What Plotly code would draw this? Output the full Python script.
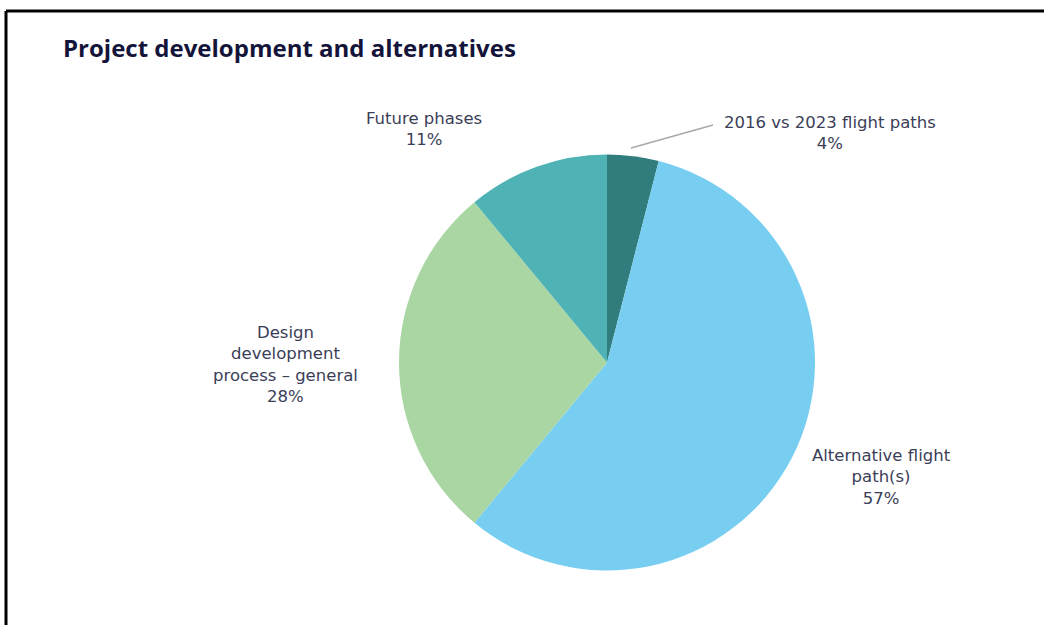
import plotly.graph_objects as go

# Share of comments by topic
categories = ["2016 vs 2023 flight paths", "Alternative flight path(s)",
              "Design development process – general", "Future phases"]
label_lines = ["2016 vs 2023 flight paths", "Alternative flight<br>path(s)",
               "Design<br>development<br>process – general", "Future phases"]
values = [4, 57, 28, 11]
colors = ["#317d7e", "#78cef1", "#a9d6a3", "#4fb2b5"]

W, H = 1044, 625


def px(x):
    return x / W


def py(y):
    return 1 - y / H


fig = go.Figure()
fig.add_trace(go.Pie(
    labels=categories,
    values=values,
    sort=False,
    direction="clockwise",
    rotation=0,
    marker=dict(colors=colors, line=dict(width=0)),
    textinfo="none",
    hoverinfo="label+percent",
    showlegend=False,
    domain=dict(x=[px(399), px(815)], y=[py(571), py(154)]),
))

total = sum(values)
pcts = [f"{round(v / total * 100)}%" for v in values]

# label anchor positions (pixels) for each slice
label_pos = [(830, 133), (881, 477), (285, 364), (424, 129)]
label_color = "#3b3e57"
for name, pct, (x, y) in zip(label_lines, pcts, label_pos):
    fig.add_annotation(
        x=px(x), y=py(y), xref="paper", yref="paper",
        text=f"{name}<br>{pct}", showarrow=False,
        align="center", xanchor="center", yanchor="middle",
        font=dict(family="DejaVu Sans", size=16.5, color=label_color),
    )

# leader line for the small slice
fig.add_shape(type="line", xref="paper", yref="paper",
              x0=px(631), y0=py(148), x1=px(713), y1=py(125),
              line=dict(color="#a8a8a8", width=1.5))

# outer frame
fig.add_shape(type="line", xref="paper", yref="paper",
              x0=px(6), y0=py(11), x1=1, y1=py(11),
              line=dict(color="#000000", width=3))
fig.add_shape(type="line", xref="paper", yref="paper",
              x0=px(6), y0=py(11), x1=px(6), y1=0,
              line=dict(color="#000000", width=3))

fig.add_annotation(
    x=px(61), y=py(48), xref="paper", yref="paper",
    text="<b>Project development and alternatives</b>", showarrow=False,
    xanchor="left", yanchor="middle",
    font=dict(family="Open Sans", size=24, color="#14143a"),
)

fig.update_layout(
    width=W, height=H,
    margin=dict(l=0, r=0, t=0, b=0),
    paper_bgcolor="#ffffff",
    plot_bgcolor="#ffffff",
)

fig.write_html("out.html")
